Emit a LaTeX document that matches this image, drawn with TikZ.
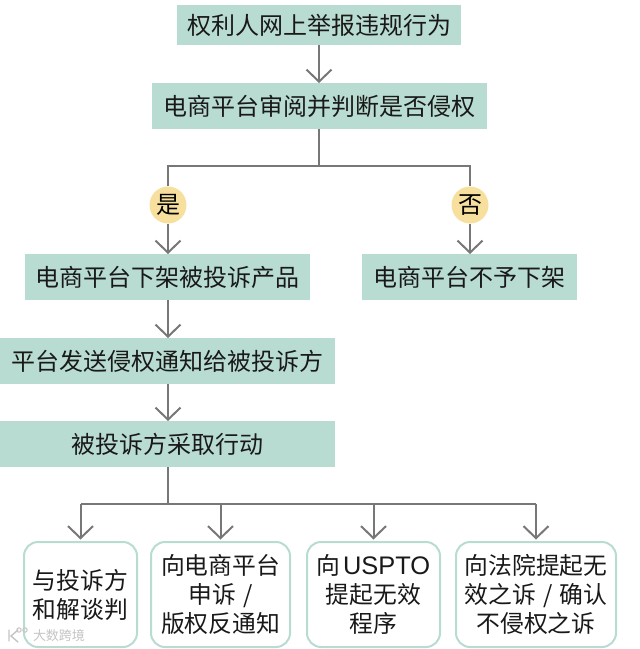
\documentclass[tikz,border=0pt]{standalone}
\usepackage{fontspec}
\setmainfont{Noto Sans CJK SC}
\newfontfamily\latinpart{Liberation Sans}
\usetikzlibrary{arrows.meta}
\definecolor{boxfill}{HTML}{B9DCD2}
\definecolor{wire}{HTML}{777777}
\definecolor{badge}{HTML}{F7DF9E}
\definecolor{wmark}{HTML}{C4C4C4}
\tikzset{
  flow/.style={draw=none,fill=boxfill,inner sep=0pt,anchor=north west,font=\fontsize{24}{29}\selectfont,text=black!90},
  outcome/.style={draw=boxfill,line width=2pt,fill=white,rounded corners=14pt,inner sep=0pt,anchor=north west,align=center,font=\fontsize{23.8}{29}\selectfont,text=black!90},
  badgenode/.style={circle,fill=badge,inner sep=0pt,minimum size=37pt,font=\fontsize{24}{29}\selectfont,text=black},
  wireline/.style={draw=wire,line width=2pt},
  wirearrow/.style={wireline,-{Straight Barb[length=12pt,width=25pt,line width=2pt]}},
  wmtext/.style={inner sep=0pt,text=wmark,font=\fontsize{13}{14}\selectfont},
  wmlogo/.style={draw=wmark,line width=1.4pt,line cap=round}
}
\newcommand{\slashgap}{\hspace{0.3em}/\hspace{0.3em}}
\begin{document}
\begin{tikzpicture}[x=1pt,y=-1pt]
\useasboundingbox (0,0) rectangle (640,649);
\node[flow,minimum width=284pt,minimum height=40pt] (report) at (177,5) {权利人网上举报违规行为};
\node[flow,minimum width=335pt,minimum height=46pt] (review) at (152,83) {电商平台审阅并判断是否侵权};
\node[badgenode] (yes) at (168,205) {是};
\node[badgenode] (no) at (470,205) {否};
\node[flow,minimum width=285pt,minimum height=46pt] (down) at (25,254) {电商平台下架被投诉产品};
\node[flow,minimum width=215pt,minimum height=46pt] (keep) at (362,254) {电商平台不予下架};
\node[flow,minimum width=335pt,minimum height=46pt] (notice) at (0,338) {平台发送侵权通知给被投诉方};
\node[flow,minimum width=335pt,minimum height=46pt] (action) at (0,421) {被投诉方采取行动};
\node[outcome,minimum width=113pt,minimum height=105pt] (o1) at (23,541) {与投诉方\\和解谈判};
\node[outcome,minimum width=139pt,minimum height=105pt] (o2) at (150,541) {向电商平台\\申诉\slashgap\\版权反通知};
\node[outcome,minimum width=133pt,minimum height=105pt] (o3) at (306,541) {向\hspace{0.1em}{\latinpart\fontsize{25.4}{29}\selectfont USPTO}\\提起无效\\程序};
\node[outcome,minimum width=160pt,minimum height=105pt] (o4) at (455,541) {向法院提起无\\效之诉\slashgap 确认\\不侵权之诉};
\coordinate (split1) at (319,166);
\coordinate (split2) at (168,504);
\draw[wirearrow] (report.south -| split1) -- (review.north -| split1);
\draw[wireline] (review.south -| split1) -- (split1);
\draw[wireline] (yes.north) -- (yes.north |- split1) -- (no.north |- split1) -- (no.north);
\draw[wirearrow] (yes) -- (yes |- down.north);
\draw[wirearrow] (no) -- (no |- keep.north);
\draw[wirearrow] (down.south -| yes) -- (notice.north -| yes);
\draw[wirearrow] (notice.south -| yes) -- (action.north -| yes);
\draw[wireline] (action.south -| split2) -- (split2);
\draw[wireline] (o1.north |- split2) -- (o4.north |- split2);
\draw[wirearrow,shorten >=1.5pt] (o1.north |- split2) -- (o1.north);
\draw[wirearrow,shorten >=1.5pt] (o2.north |- split2) -- (o2.north);
\draw[wirearrow,shorten >=1.5pt] (o3.north |- split2) -- (o3.north);
\draw[wirearrow,shorten >=1.5pt] (o4.north |- split2) -- (o4.north);
\node[wmtext] (wm) at (59,636) {大数跨境};
\draw[wmlogo] (9,630) -- (9,641) (18,630) -- (11,636) -- (18,642);
\draw[wmlogo,line width=1pt] (19,630) circle[radius=2.2pt] (25,630) circle[radius=2.2pt];
\end{tikzpicture}
\end{document}
